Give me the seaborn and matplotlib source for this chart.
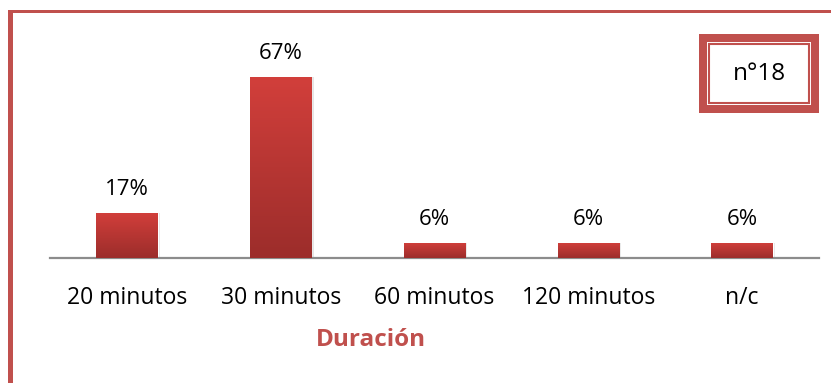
import numpy as np
import pandas as pd
import seaborn as sns
import matplotlib.pyplot as plt
from matplotlib.patches import Rectangle
from matplotlib.colors import LinearSegmentedColormap

# data (18 answers: 3, 12, 1, 1, 1)
categorias = ["20 minutos", "30 minutos", "60 minutos", "120 minutos", "n/c"]
porcentajes = [16.7, 66.7, 5.6, 5.6, 5.6]
etiquetas = ["17%", "67%", "6%", "6%", "6%"]

df = pd.DataFrame({"duracion": categorias, "pct": porcentajes})

sns.set_style("white")
plt.rcParams["font.family"] = ["Open Sans", "DejaVu Sans"]

W, H = 831, 383
fig = plt.figure(figsize=(W / 100, H / 100), dpi=100)


def fx(px):
    return px / W


def fy(py):
    return 1 - py / H


# axes: baseline at y=258, from x=50 to x=819
ax = fig.add_axes([fx(50), fy(258), fx(769), fy(20) - fy(258)])

sns.barplot(data=df, x="duracion", y="pct", color="#c0392f", width=0.40,
            saturation=1, ax=ax)

ax.set_ylim(0, 238 / 2.72)
ax.set_xlim(-0.5, len(categorias) - 0.5)

# gradient fill + soft shadow on each bar
grad = LinearSegmentedColormap.from_list("g", ["#9c2d2b", "#d23f3b"])
for p in ax.patches:
    x0, y0 = p.get_x(), p.get_y()
    w, h = p.get_width(), p.get_height()
    sh = Rectangle((x0 + 0.006, y0), w + 0.008, h, color="#000000",
                   alpha=0.10, zorder=1, lw=0)
    ax.add_patch(sh)
    p.set_zorder(2)
    img = ax.imshow(np.linspace(0, 1, 100).reshape(-1, 1), cmap=grad,
                    extent=[x0, x0 + w, y0, y0 + h], origin="lower",
                    aspect="auto", zorder=3)
    img.set_clip_path(p)

for i, (v, t) in enumerate(zip(porcentajes, etiquetas)):
    ax.annotate(t, (i, v), xytext=(0, 9), textcoords="offset points",
                ha="center", va="bottom", fontsize=16, color="#000000")

for s in ["top", "right", "left"]:
    ax.spines[s].set_visible(False)
ax.spines["bottom"].set_color("#8c8c8c")
ax.spines["bottom"].set_linewidth(1.6)
ax.set_yticks([])
ax.set_ylabel("")
ax.set_xlabel("")
ax.tick_params(axis="x", length=0, pad=20, labelsize=16.5, colors="#000000")

# axis title (placed like in the original, off centre)
fig.text(fx(371), fy(340), "Duración", ha="center", va="center",
         fontsize=17.5, fontweight="bold", color="#c0504d")

# outer frame (top and left edges visible)
red = "#c0504d"
fig.add_artist(Rectangle((fx(8), fy(13)), fx(W), fy(10) - fy(13),
                         transform=fig.transFigure, color=red, lw=0))
fig.add_artist(Rectangle((fx(8), 0), fx(5), fy(10),
                         transform=fig.transFigure, color=red, lw=0))

# "n°18" box with double border
fig.add_artist(Rectangle((fx(699), fy(113)), fx(120), fy(34) - fy(113),
                         transform=fig.transFigure, color=red, lw=0))
fig.add_artist(Rectangle((fx(707), fy(105)), fx(104), fy(42) - fy(105),
                         transform=fig.transFigure, color="white", lw=0))
fig.add_artist(Rectangle((fx(709), fy(103)), fx(100), fy(44) - fy(103),
                         transform=fig.transFigure, facecolor="white",
                         edgecolor=red, lw=1.5))
fig.text(fx(759), fy(74), "n°18", ha="center", va="center", fontsize=17.5,
         color="#000000")

fig.savefig("out.png", dpi=100)
